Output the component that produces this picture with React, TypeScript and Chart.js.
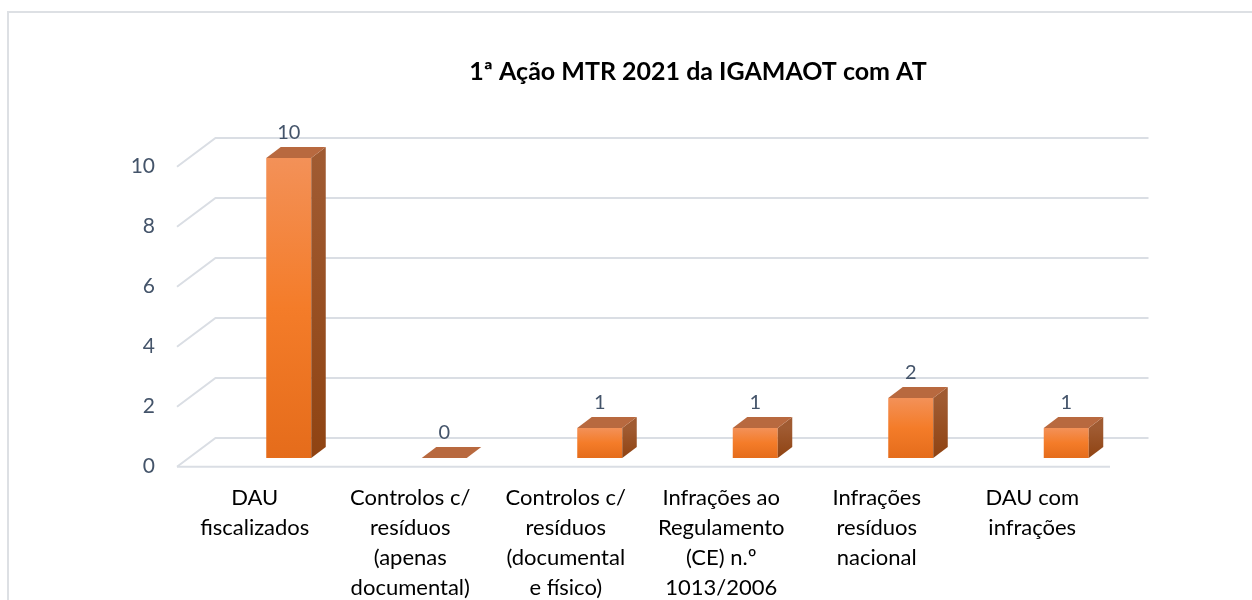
import React, { useEffect, useRef } from "react";
import { Chart, registerables } from "chart.js";

Chart.register(...registerables);

// ---- data ----
const categories: string[][] = [
  ["DAU", "fiscalizados"],
  ["Controlos c/", "resíduos", "(apenas", "documental)"],
  ["Controlos c/", "resíduos", "(documental", "e físico)"],
  ["Infrações ao", "Regulamento", "(CE) n.º", "1013/2006"],
  ["Infrações", "resíduos", "nacional"],
  ["DAU com", "infrações"],
];
const values: number[] = [10, 0, 1, 1, 2, 1];
const yMin = 0;
const yMax = 10;
const yStep = 2;
const chartTitle = "1ª Ação MTR 2021 da IGAMAOT com AT";

// ---- layout / style constants ----
const W = 1252;
const H = 700;
const AREA_LEFT = 177;
const AREA_TOP = 166.7;
const AREA_RIGHT = 1110;
const AREA_BOTTOM = 466.7;
const WALL_DX = 38.5;
const WALL_DY = 28.7;
const BAR_OFF_DX = 34;
const BAR_OFF_DY = 8.7;
const BAR_DEPTH_DX = 14.5;
const BAR_DEPTH_DY = 11;
const FONT = "Lato, 'Open Sans', sans-serif";
const GRID_COLOR = "#DADEE4";
const TICK_COLOR = "#44546A";

const threeD = {
  id: "threeD",
  beforeDraw(chart: any) {
    const ctx = chart.ctx;
    ctx.save();
    // outer chart frame (left + top)
    ctx.strokeStyle = "#DDE0E4";
    ctx.lineWidth = 2;
    ctx.beginPath();
    ctx.moveTo(8, H);
    ctx.lineTo(8, 12);
    ctx.lineTo(W, 12);
    ctx.stroke();
    // title
    ctx.fillStyle = "#000";
    ctx.font = `bold 25px ${FONT}`;
    ctx.textAlign = "center";
    ctx.textBaseline = "middle";
    ctx.fillText(chartTitle, 698, 72);
    ctx.restore();
  },
  beforeDatasetsDraw(chart: any) {
    const ctx = chart.ctx;
    const xs = chart.scales.x;
    const ys = chart.scales.y;
    const l = xs.left;
    const r = xs.right;
    ctx.save();
    ctx.strokeStyle = GRID_COLOR;
    ctx.lineWidth = 2;
    ys.ticks.forEach((t: any) => {
      const py = ys.getPixelForValue(t.value);
      ctx.beginPath();
      ctx.moveTo(l, py);
      ctx.lineTo(l + WALL_DX, py - WALL_DY);
      ctx.lineTo(r + WALL_DX, py - WALL_DY);
      ctx.stroke();
    });
    const p0 = ys.getPixelForValue(0);
    ctx.beginPath();
    ctx.moveTo(l, p0);
    ctx.lineTo(r, p0);
    ctx.stroke();
    ctx.restore();
  },
  afterDatasetsDraw(chart: any) {
    const ctx = chart.ctx;
    const meta = chart.getDatasetMeta(0);
    const data = chart.data.datasets[0].data as number[];
    ctx.save();
    meta.data.forEach((bar: any, i: number) => {
      const p = bar.getProps(["x", "y", "base", "width"], true);
      const xl = p.x - p.width / 2 + BAR_OFF_DX;
      const xr = xl + p.width;
      const yt = Math.min(p.y, p.base) - BAR_OFF_DY;
      const yb = Math.max(p.y, p.base) - BAR_OFF_DY;
      const v = data[i];
      if (yb - yt > 0.5) {
        // front face
        const g = ctx.createLinearGradient(0, yt, 0, yb);
        g.addColorStop(0, "#F39158");
        g.addColorStop(0.5, "#F47C29");
        g.addColorStop(1, "#E56C1B");
        ctx.fillStyle = g;
        ctx.fillRect(xl, yt, xr - xl, yb - yt);
        // side face
        const gs = ctx.createLinearGradient(0, yt, 0, yb);
        gs.addColorStop(0, "#A05B32");
        gs.addColorStop(1, "#8F4312");
        ctx.fillStyle = gs;
        ctx.beginPath();
        ctx.moveTo(xr, yt);
        ctx.lineTo(xr + BAR_DEPTH_DX, yt - BAR_DEPTH_DY);
        ctx.lineTo(xr + BAR_DEPTH_DX, yb - BAR_DEPTH_DY);
        ctx.lineTo(xr, yb);
        ctx.closePath();
        ctx.fill();
      }
      // top face
      ctx.fillStyle = "#B8693F";
      ctx.beginPath();
      ctx.moveTo(xl, yt);
      ctx.lineTo(xr, yt);
      ctx.lineTo(xr + BAR_DEPTH_DX, yt - BAR_DEPTH_DY);
      ctx.lineTo(xl + BAR_DEPTH_DX, yt - BAR_DEPTH_DY);
      ctx.closePath();
      ctx.fill();
      // data label
      ctx.fillStyle = TICK_COLOR;
      ctx.font = `20px ${FONT}`;
      ctx.textAlign = "center";
      ctx.textBaseline = "middle";
      ctx.fillText(String(v), (xl + xr) / 2, yt - 25);
    });
    ctx.restore();
  },
};

export default function App() {
  const ref = useRef<HTMLCanvasElement | null>(null);
  useEffect(() => {
    if (!ref.current) return;
    const chart = new Chart(ref.current, {
      type: "bar",
      data: {
        labels: categories,
        datasets: [
          {
            data: values,
            backgroundColor: "rgba(0,0,0,0)",
            borderWidth: 0,
            barPercentage: 45 / 155.5,
            categoryPercentage: 1,
          },
        ],
      },
      options: {
        responsive: false,
        animation: false,
        devicePixelRatio: 1,
        layout: { padding: { left: 0, top: AREA_TOP, right: W - AREA_RIGHT, bottom: 0 } },
        plugins: {
          legend: { display: false },
          tooltip: { enabled: false },
          title: { display: false },
        },
        scales: {
          x: {
            grid: { display: false, drawTicks: false },
            border: { display: false },
            ticks: {
              color: "#000",
              font: { family: FONT, size: 22, lineHeight: 30 / 22 },
              padding: 16.3,
              maxRotation: 0,
              minRotation: 0,
              autoSkip: false,
            },
            afterFit: (s: any) => {
              s.height = H - AREA_BOTTOM;
            },
          },
          y: {
            min: yMin,
            max: yMax,
            grid: { display: false, drawTicks: false },
            border: { display: false },
            ticks: {
              stepSize: yStep,
              color: TICK_COLOR,
              font: { family: FONT, size: 21 },
              padding: 22,
            },
            afterFit: (s: any) => {
              s.width = AREA_LEFT;
            },
          },
        },
      },
      plugins: [threeD],
    });
    return () => chart.destroy();
  }, []);
  return (
    <div
      style={{
        position: "absolute",
        left: 0,
        top: 0,
        width: W,
        height: 600,
        overflow: "hidden",
        background: "#fff",
      }}
    >
      <canvas ref={ref} width={W} height={H} style={{ display: "block", width: W, height: H }} />
    </div>
  );
}
